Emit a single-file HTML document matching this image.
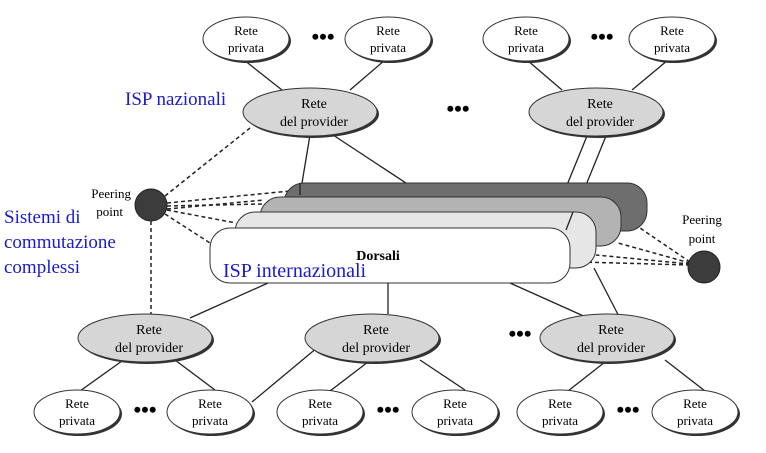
<!DOCTYPE html>
<html><head><meta charset="utf-8"><style>
html,body{margin:0;padding:0;background:#fff;}
svg{display:block;}
text{font-family:"Liberation Serif",serif;}
</style></head><body>
<svg width="766" height="453" viewBox="0 0 766 453" xmlns="http://www.w3.org/2000/svg">
<defs>
<g id="priv">
<ellipse cx="2" cy="2" rx="43" ry="22" fill="#333"/>
<ellipse cx="0" cy="0" rx="43" ry="22" fill="#fff" stroke="#333" stroke-width="1"/>
<text x="0" y="-4" font-size="13" text-anchor="middle">Rete</text>
<text x="0" y="13" font-size="13" text-anchor="middle">privata</text>
</g>
<g id="prov">
<ellipse cx="2" cy="2" rx="67" ry="24" fill="#333"/>
<ellipse cx="0" cy="0" rx="67" ry="24" fill="#d6d6d6" stroke="#333" stroke-width="1"/>
<text x="4" y="-4" font-size="14" text-anchor="middle">Rete</text>
<text x="4" y="14" font-size="14" text-anchor="middle">del provider</text>
</g>
</defs>

<g stroke="#222" stroke-width="1.3" fill="none">
<line x1="244" y1="60" x2="282" y2="90"/>
<line x1="385" y1="60" x2="350" y2="90"/>
<line x1="527" y1="60" x2="562" y2="90"/>
<line x1="668" y1="60" x2="632" y2="90"/>
<line x1="310" y1="135" x2="300" y2="195"/>
<line x1="333" y1="135" x2="450" y2="212"/>
<line x1="587" y1="136" x2="567" y2="185"/>
<line x1="606" y1="136" x2="566" y2="234"/>
<line x1="268" y1="283" x2="190" y2="318"/>
<line x1="388" y1="283" x2="388" y2="314"/>
<line x1="510" y1="283" x2="588" y2="318"/>
<line x1="594" y1="268" x2="626" y2="330"/>
<line x1="122" y1="361" x2="80" y2="391"/>
<line x1="175" y1="360" x2="215" y2="390"/>
<line x1="318" y1="347" x2="252" y2="402"/>
<line x1="368" y1="362" x2="330" y2="391"/>
<line x1="420" y1="360" x2="465" y2="390"/>
<line x1="605" y1="362" x2="568" y2="391"/>
<line x1="665" y1="360" x2="705" y2="391"/>
</g>

<g stroke="#222" stroke-width="1.5" fill="none" stroke-dasharray="4,3">
<line x1="165" y1="196" x2="250" y2="128"/>
<line x1="151" y1="221" x2="151" y2="315"/>
<line x1="167" y1="203" x2="290" y2="191"/>
<line x1="167" y1="206" x2="262" y2="204"/>
<line x1="167" y1="209" x2="264" y2="200"/>
<line x1="167" y1="210" x2="236" y2="223"/>
<line x1="165" y1="214" x2="210" y2="243"/>
<line x1="690" y1="262" x2="640" y2="228"/>
<line x1="690" y1="263" x2="618" y2="243"/>
<line x1="690" y1="264" x2="596" y2="255"/>
<line x1="690" y1="265" x2="580" y2="262"/>
</g>

<rect x="284" y="183" width="363" height="48" rx="20" fill="#6e6e6e" stroke="#333"/>
<rect x="260" y="197" width="361" height="49" rx="20" fill="#b3b3b3" stroke="#333"/>
<rect x="235" y="212" width="361" height="56" rx="20" fill="#e6e6e6" stroke="#333"/>
<rect x="210" y="228" width="360" height="55" rx="20" fill="#fff" stroke="#333"/>
<line x1="300" y1="183" x2="300" y2="195" stroke="#222" stroke-width="1.3"/>
<line x1="573" y1="212" x2="566" y2="230" stroke="#222" stroke-width="1.3"/>
<text x="378" y="260" font-size="14" font-weight="bold" text-anchor="middle">Dorsali</text>
<text x="223" y="277" font-size="20" fill="#1a1ad0">ISP internazionali</text>

<circle cx="151" cy="205" r="16" fill="#3c3c3c" stroke="#222"/>
<text x="131" y="198" font-size="13" text-anchor="end">Peering</text>
<text x="123" y="216" font-size="13" text-anchor="end">point</text>
<circle cx="704" cy="267" r="16" fill="#3c3c3c" stroke="#222"/>
<text x="702" y="224" font-size="13" text-anchor="middle">Peering</text>
<text x="702" y="243" font-size="13" text-anchor="middle">point</text>

<text x="125" y="105" font-size="19" fill="#1a1ad0">ISP nazionali</text>
<text x="4" y="223" font-size="19" fill="#1a1ad0">Sistemi di</text>
<text x="4" y="248" font-size="19" fill="#1a1ad0">commutazione</text>
<text x="4" y="273" font-size="19" fill="#1a1ad0">complessi</text>

<use href="#priv" x="246" y="39"/>
<use href="#priv" x="388" y="39"/>
<use href="#priv" x="526" y="39"/>
<use href="#priv" x="672" y="39"/>
<use href="#prov" x="310" y="112"/>
<use href="#prov" x="596" y="112"/>
<use href="#prov" x="145" y="338"/>
<use href="#prov" x="372" y="338"/>
<use href="#prov" x="607" y="338"/>
<use href="#priv" x="77" y="412"/>
<use href="#priv" x="210" y="412"/>
<use href="#priv" x="320" y="412"/>
<use href="#priv" x="455" y="412"/>
<use href="#priv" x="560" y="412"/>
<use href="#priv" x="695" y="412"/>

<g font-size="22" font-weight="bold" text-anchor="middle" font-family="Liberation Sans,sans-serif">
<text x="323" y="44">•••</text>
<text x="602" y="44">•••</text>
<text x="458" y="116">•••</text>
<text x="520" y="341">•••</text>
<text x="145" y="417">•••</text>
<text x="388" y="417">•••</text>
<text x="628" y="417">•••</text>
</g>
</svg>
</body></html>
